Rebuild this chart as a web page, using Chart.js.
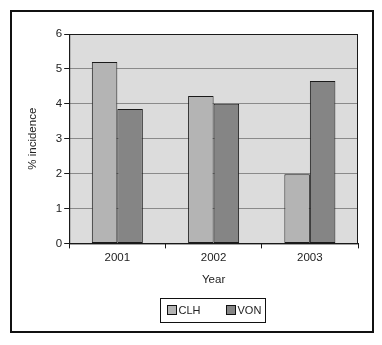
<!DOCTYPE html>
<html>
<head>
<meta charset="utf-8">
<script src="https://cdn.jsdelivr.net/npm/chart.js@4"></script>
<style>
  html, body { margin: 0; padding: 0; background: #fff; }
  #wrap { width: 382px; height: 345px; position: relative; }
</style>
</head>
<body>
<div id="wrap"><canvas id="chart" width="382" height="345"></canvas></div>
<script>
const years = ['2001', '2002', '2003'];
const clhValues = [5.2, 4.22, 1.98];
const vonValues = [3.85, 4.0, 4.65];
const yTicks = [0, 1, 2, 3, 4, 5, 6];

const FONT = 'Liberation Sans, Arial, sans-serif';

// grey plot background, plot frame, outer frame and boxed legend
const framePlugin = {
    id: 'frames',
    beforeDraw(chart) {
        const ctx = chart.ctx;
        const a = chart.chartArea;
        ctx.save();
        ctx.fillStyle = '#fff';
        ctx.fillRect(0, 0, chart.width, chart.height);
        ctx.fillStyle = '#dcdcdc';
        ctx.fillRect(a.left, a.top, a.right - a.left, a.bottom - a.top);
        ctx.restore();
    },
    afterDraw(chart) {
        const ctx = chart.ctx;
        const a = chart.chartArea;
        ctx.save();
        ctx.strokeStyle = '#1a1a1a';
        ctx.lineWidth = 1;
        ctx.strokeRect(a.left + 0.5, a.top + 0.5, a.right - a.left - 1, a.bottom - a.top);
        // outer frame
        ctx.lineWidth = 2;
        ctx.strokeStyle = '#111';
        ctx.strokeRect(11, 11, 362, 321);

        // legend
        const cx = (a.left + a.right) / 2;
        const lw = 105, lh = 24;
        const lx = Math.round(cx - 54) + 0.5, ly = 298.5;
        ctx.lineWidth = 1;
        ctx.strokeStyle = '#111';
        ctx.strokeRect(lx, ly, lw, lh);
        ctx.font = '11px ' + FONT;
        ctx.textBaseline = 'middle';
        const offsets = [7, 66];
        chart.data.datasets.forEach((ds, i) => {
            const bx = lx + offsets[i];
            const by = ly + 7;
            ctx.fillStyle = ds.backgroundColor;
            ctx.fillRect(bx, by, 9, 9);
            ctx.strokeRect(bx, by, 9, 9);
            ctx.fillStyle = '#222';
            ctx.fillText(ds.label, bx + 11, ly + lh / 2 + 0.5);
        });
        ctx.restore();
    }
};

new Chart(document.getElementById('chart'), {
    type: 'bar',
    data: {
        labels: years,
        datasets: [
            {
                label: 'CLH',
                data: clhValues,
                backgroundColor: '#b4b4b4',
                borderColor: '#1a1a1a',
                borderWidth: 1,
                borderSkipped: false
            },
            {
                label: 'VON',
                data: vonValues,
                backgroundColor: '#858585',
                borderColor: '#1a1a1a',
                borderWidth: 1,
                borderSkipped: false
            }
        ]
    },
    options: {
        responsive: false,
        animation: false,
        devicePixelRatio: 1,
        layout: { padding: { left: 26, right: 24, top: 34, bottom: 58 } },
        datasets: { bar: { barPercentage: 1, categoryPercentage: 0.53 } },
        plugins: {
            legend: { display: false },
            tooltip: { enabled: false }
        },
        scales: {
            x: {
                offset: true,
                grid: {
                    offset: true,
                    drawOnChartArea: false,
                    drawTicks: true,
                    tickLength: 5,
                    tickColor: '#1a1a1a'
                },
                border: { color: '#1a1a1a', width: 1 },
                ticks: { color: '#222', font: { family: FONT, size: 11.5 }, padding: 3 },
                title: {
                    display: true,
                    text: 'Year',
                    color: '#222',
                    font: { family: FONT, size: 11.5 },
                    padding: { top: 5, bottom: 0 }
                }
            },
            y: {
                min: 0,
                max: 6,
                afterBuildTicks(scale) {
                    scale.ticks = yTicks.map(v => ({ value: v }));
                },
                grid: {
                    color: '#8a8a8a',
                    tickColor: '#1a1a1a',
                    tickLength: 5
                },
                border: { color: '#1a1a1a', width: 1 },
                ticks: { color: '#222', font: { family: FONT, size: 11.5 }, padding: 2 },
                title: {
                    display: true,
                    text: '% incidence',
                    color: '#222',
                    font: { family: FONT, size: 11.5 },
                    padding: { top: 0, bottom: 14 }
                }
            }
        }
    },
    plugins: [framePlugin]
});
</script>
</body>
</html>
